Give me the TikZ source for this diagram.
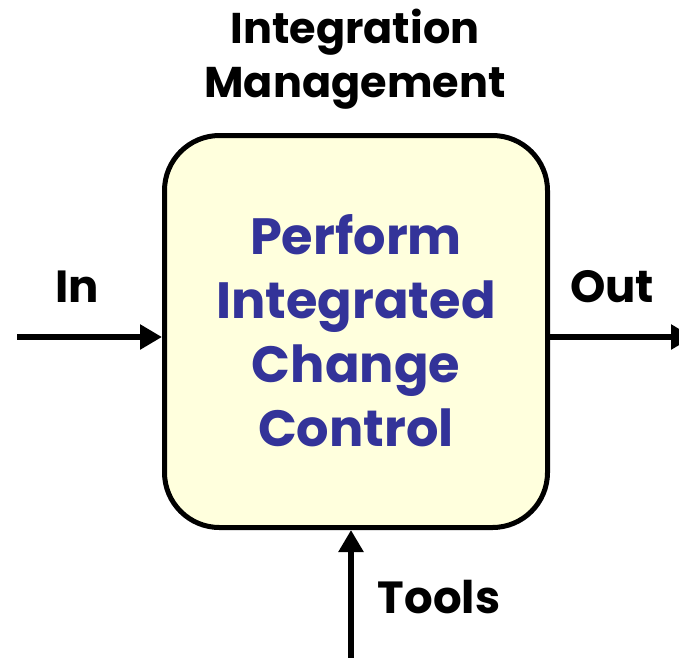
\documentclass[tikz,border=0pt]{standalone}
\usepackage{fontspec}
\setmainfont{Poppins}
\usetikzlibrary{arrows.meta}
\definecolor{boxfill}{RGB}{255,255,221}
\definecolor{procblue}{RGB}{51,51,153}
\tikzset{
  x=1pt, y=-1pt,
  flow/.style={line width=5.5pt, -{Triangle[length=22pt,width=24pt]}},
  label/.style={font=\fontsize{45}{54}\selectfont\bfseries, align=center, inner sep=0pt},
  process/.style={draw, line width=5pt, fill=boxfill, rounded corners=55pt,
    minimum width=383pt, minimum height=392pt, inner sep=0pt}
}
\begin{document}
\begin{tikzpicture}
\useasboundingbox (0,0) rectangle (679,657);
\node[process] (box) at (356,331.5) {};
\node[font=\fontsize{51}{64}\selectfont\bfseries, text=procblue, align=center] (title) at (356,331)
  {Perform\\Integrated\\Change\\Control};
\node[label, font=\fontsize{43}{54}\selectfont\bfseries] (group) at (355,59) {Integration\\Management};
\node[label] (inlbl) at (77,287) {In};
\node[label] (outlbl) at (612,287) {Out};
\node[label] (toolslbl) at (439,597) {Tools};
\coordinate (inS) at (17,337);
\coordinate (outE) at (693,337);
\coordinate (toolsS) at (351,660);
\draw[flow] (inS) -- (box.west |- inS);
\draw[flow] (box.east |- outE) -- (outE);
\draw[flow] (toolsS) -- (toolsS |- box.south);
\end{tikzpicture}
\end{document}
